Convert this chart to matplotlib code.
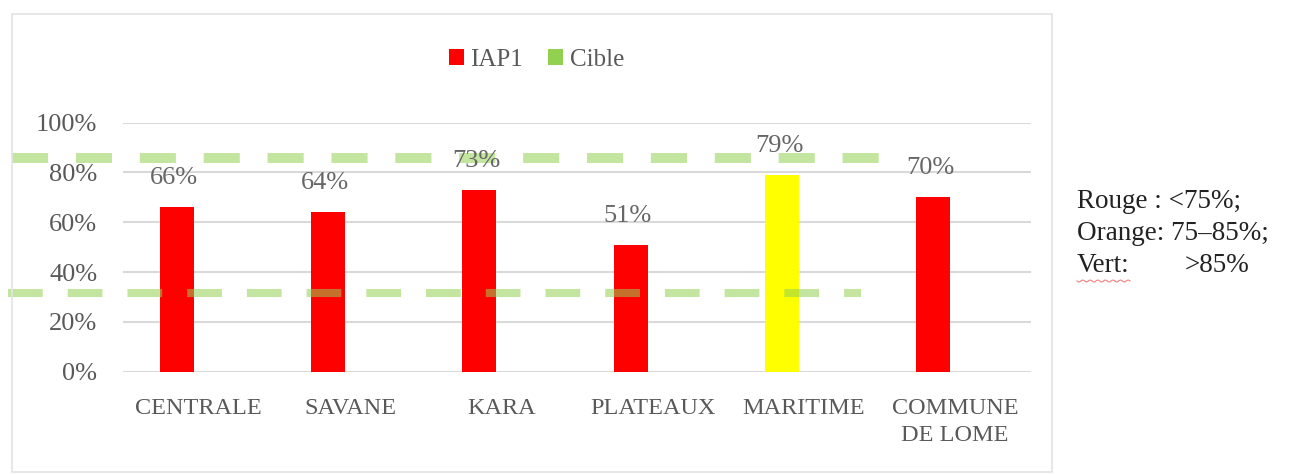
import matplotlib
matplotlib.use("Agg")
import matplotlib.pyplot as plt
from matplotlib.patches import Patch, Rectangle
from matplotlib.lines import Line2D
from matplotlib.ticker import FuncFormatter
import numpy as np

plt.rcParams["lines.scale_dashes"] = False

# Data
regions = ["CENTRALE", "SAVANE", "KARA", "PLATEAUX", "MARITIME", "COMMUNE\nDE LOME"]
iap1 = [66, 64, 73, 51, 79, 70]
bar_colors = ["#ff0000", "#ff0000", "#ff0000", "#ff0000", "#ffff00", "#ff0000"]
cible_upper = 85.8
cible_lower = 31.8
legend_labels = ["IAP1", "Cible"]
legend_colors = ["#ff0000", "#92d050"]
y_ticks = [0, 20, 40, 60, 80, 100]
notes = ["Rouge : <75%;", "Orange: 75\u201385%;"]
note_vert = ("Vert:", ">85%")

SERIF = ["Liberation Serif", "DejaVu Serif"]
GREY = "#595959"

fig = plt.figure(figsize=(12.93, 4.75), dpi=100)
fig.patch.set_facecolor("white")

# Outer chart frame
fig.patches.append(Rectangle((0.0093, 0.006), 0.8043, 0.9645, transform=fig.transFigure,
                             fill=False, edgecolor="#e3e3e3", linewidth=1.2))

ax = fig.add_axes([0.0951, 0.2175, 0.7022, 0.5242])
x = np.arange(len(regions))
offset = -0.145
width = 0.225

ax.bar(x + offset, iap1, width=width, color=bar_colors, zorder=3)

for xi, v in zip(x, iap1):
    ax.annotate(f"{v}%", (xi + offset - 0.02, v), xytext=(0, 21), textcoords="offset points",
                ha="center", va="center", fontsize=19, color="#666666",
                family=SERIF, zorder=6)

ax.set_xlim(-0.5, len(regions) - 0.5)
ax.set_ylim(0, 100)
ax.set_yticks(y_ticks)
ax.yaxis.set_major_formatter(FuncFormatter(lambda v, p: f"{v:.0f}%"))
ax.set_xticks(x)
ax.set_xticklabels(regions, family=SERIF, fontsize=17.5, color=GREY, linespacing=1.4, va="top")
for lbl in ax.get_yticklabels():
    lbl.set_family(SERIF)
    lbl.set_fontsize(19)
    lbl.set_color(GREY)
ax.tick_params(axis="both", length=0)
ax.tick_params(axis="y", pad=18.5)
ax.tick_params(axis="x", pad=19)
ax.grid(axis="y", color="#d9d9d9", linewidth=1.5, zorder=0)
for s in ax.spines.values():
    s.set_visible(False)

# Target dashed lines
ax.add_line(Line2D([-1.23, 4.67], [cible_upper, cible_upper], color="#92d050", alpha=0.55,
                   linewidth=7.2, dashes=(26, 20), solid_capstyle="butt", dash_capstyle="butt",
                   clip_on=False, zorder=4))
ax.add_line(Line2D([-1.26, 4.38], [cible_lower, cible_lower], color="#92d050", alpha=0.55,
                   linewidth=5.8, dashes=(25, 18), solid_capstyle="butt", dash_capstyle="butt",
                   clip_on=False, zorder=4))

# Legend
handles = [Patch(facecolor=c, edgecolor="none") for c in legend_colors]
fig.legend(handles, legend_labels, loc="center", bbox_to_anchor=(0.415, 0.874), ncol=2,
           frameon=False, handlelength=0.6, handleheight=0.6, handletextpad=0.25,
           columnspacing=1.0, prop={"family": SERIF, "size": 18}, labelcolor=GREY)

# Colour rule notes
note_x = 1077 / 1293
for i, t in enumerate(notes):
    fig.text(note_x, 1 - (201 + 32 * i) / 475, t, family=SERIF, fontsize=19.5,
             color="#222222", ha="left", va="center")
yv = 1 - 265 / 475
fig.text(note_x, yv, note_vert[0], family=SERIF, fontsize=19.5, color="#222222",
         ha="left", va="center")
fig.text(1185 / 1293, yv, note_vert[1], family=SERIF, fontsize=19.5, color="#222222",
         ha="left", va="center")
wx = np.linspace(1077, 1130, 40) / 1293
wy = 1 - (281 + 1.0 * np.sin(np.linspace(0, 14 * np.pi, 40))) / 475
fig.add_artist(Line2D(wx, wy, color="#f08080", linewidth=0.8, transform=fig.transFigure))

fig.savefig("out.png", dpi=100)
